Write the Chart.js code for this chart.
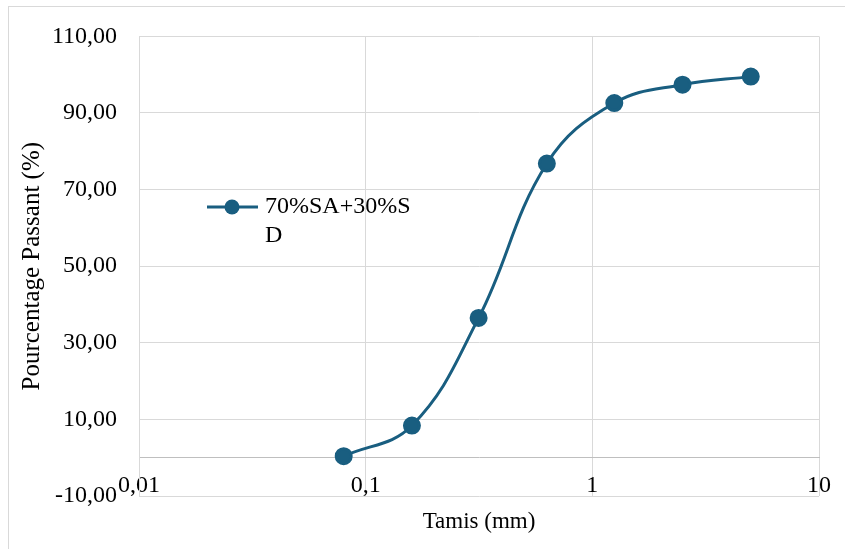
<!DOCTYPE html>
<html>
<head>
<meta charset="utf-8">
<script src="https://cdn.jsdelivr.net/npm/chart.js@4/dist/chart.umd.min.js"></script>
<style>
html,body{margin:0;padding:0;background:#fff;}
#wrap{width:845px;height:549px;position:relative;}
</style>
</head>
<body>
<div id="wrap"><canvas id="c" width="845" height="549"></canvas></div>
<script>
const seriesLabel = '70%SA+30%SD';
const sieveSizes = [0.08, 0.16, 0.315, 0.63, 1.25, 2.5, 5];
const passing = [0.4, 8.4, 36.5, 76.8, 92.6, 97.4, 99.5];
const xTicks = [0.01, 0.1, 1, 10];
const yTicks = [-10, 10, 30, 50, 70, 90, 110];
const xTitle = 'Tamis (mm)';
const yTitle = 'Pourcentage Passant (%)';

const FONT = "'Liberation Serif', 'Times New Roman', serif";
const COLOR = '#195e80';

const framePlugin = {
  id: 'frame',
  beforeDraw(chart) {
    const ctx = chart.ctx;
    ctx.save();
    ctx.fillStyle = '#fff';
    ctx.fillRect(0, 0, chart.width, chart.height);
    ctx.strokeStyle = '#d9d9d9';
    ctx.lineWidth = 1;
    ctx.strokeRect(8.5, 6.5, 900, 600);
    ctx.restore();
  },
  afterDraw(chart) {
    // legend (wrapped label as in reference)
    const ctx = chart.ctx;
    const ds = chart.data.datasets[0];
    const lx = 207, ly = 207;
    ctx.save();
    ctx.strokeStyle = ds.borderColor;
    ctx.lineWidth = 3;
    ctx.beginPath();
    ctx.moveTo(lx, ly);
    ctx.lineTo(lx + 51, ly);
    ctx.stroke();
    ctx.fillStyle = ds.pointBackgroundColor;
    ctx.beginPath();
    ctx.arc(lx + 25, ly, 7.5, 0, Math.PI * 2);
    ctx.fill();
    ctx.fillStyle = '#000';
    ctx.font = '24px ' + FONT;
    ctx.textBaseline = 'middle';
    ctx.textAlign = 'left';
    const label = ds.label;
    ctx.fillText(label.slice(0, label.length - 1), 265, ly);
    ctx.fillText(label.slice(label.length - 1), 265, ly + 29);
    ctx.restore();
  }
};

new Chart(document.getElementById('c'), {
  type: 'line',
  data: {
    datasets: [{
      label: seriesLabel,
      data: sieveSizes.map((x, i) => ({x: x, y: passing[i]})),
      borderColor: COLOR,
      backgroundColor: COLOR,
      pointBackgroundColor: COLOR,
      pointBorderColor: COLOR,
      pointRadius: 7.5,
      pointHoverRadius: 7.5,
      borderWidth: 3,
      tension: 0.4,
      fill: false
    }]
  },
  options: {
    responsive: false,
    animation: false,
    events: [],
    layout: {padding: {left: 0, right: 26, top: 33, bottom: 53}},
    plugins: {
      legend: {display: false},
      tooltip: {enabled: false}
    },
    scales: {
      x: {
        type: 'logarithmic',
        position: {y: 0},
        min: 0.01,
        max: 10,
        afterBuildTicks(scale) { scale.ticks = xTicks.map(v => ({value: v})); },
        afterFit(scale) { scale.height = 69; },
        ticks: {
          autoSkip: false,
          maxRotation: 0,
          padding: 14,
          color: '#000',
          font: {family: FONT, size: 24},
          callback: (v) => String(v).replace('.', ',')
        },
        grid: {color: '#d9d9d9', drawTicks: false, lineWidth: 1},
        border: {color: '#bfbfbf'},
        title: {
          display: true,
          text: xTitle,
          color: '#000',
          font: {family: FONT, size: 23},
          padding: {top: 0, bottom: -9}
        }
      },
      y: {
        type: 'linear',
        min: -10,
        max: 110,
        afterBuildTicks(scale) { scale.ticks = yTicks.map(v => ({value: v})); },
        afterFit(scale) { scale.width = 139; },
        ticks: {
          padding: 22,
          color: '#000',
          font: {family: FONT, size: 24},
          callback: (v) => v.toFixed(2).replace('.', ',')
        },
        grid: {drawTicks: false, lineWidth: 1, color: '#d9d9d9'},
        border: {color: '#d9d9d9'},
        title: {
          display: true,
          text: yTitle,
          color: '#000',
          font: {family: FONT, size: 25},
          padding: {top: 17, bottom: 4}
        }
      }
    }
  },
  plugins: [framePlugin]
});
</script>
</body>
</html>
